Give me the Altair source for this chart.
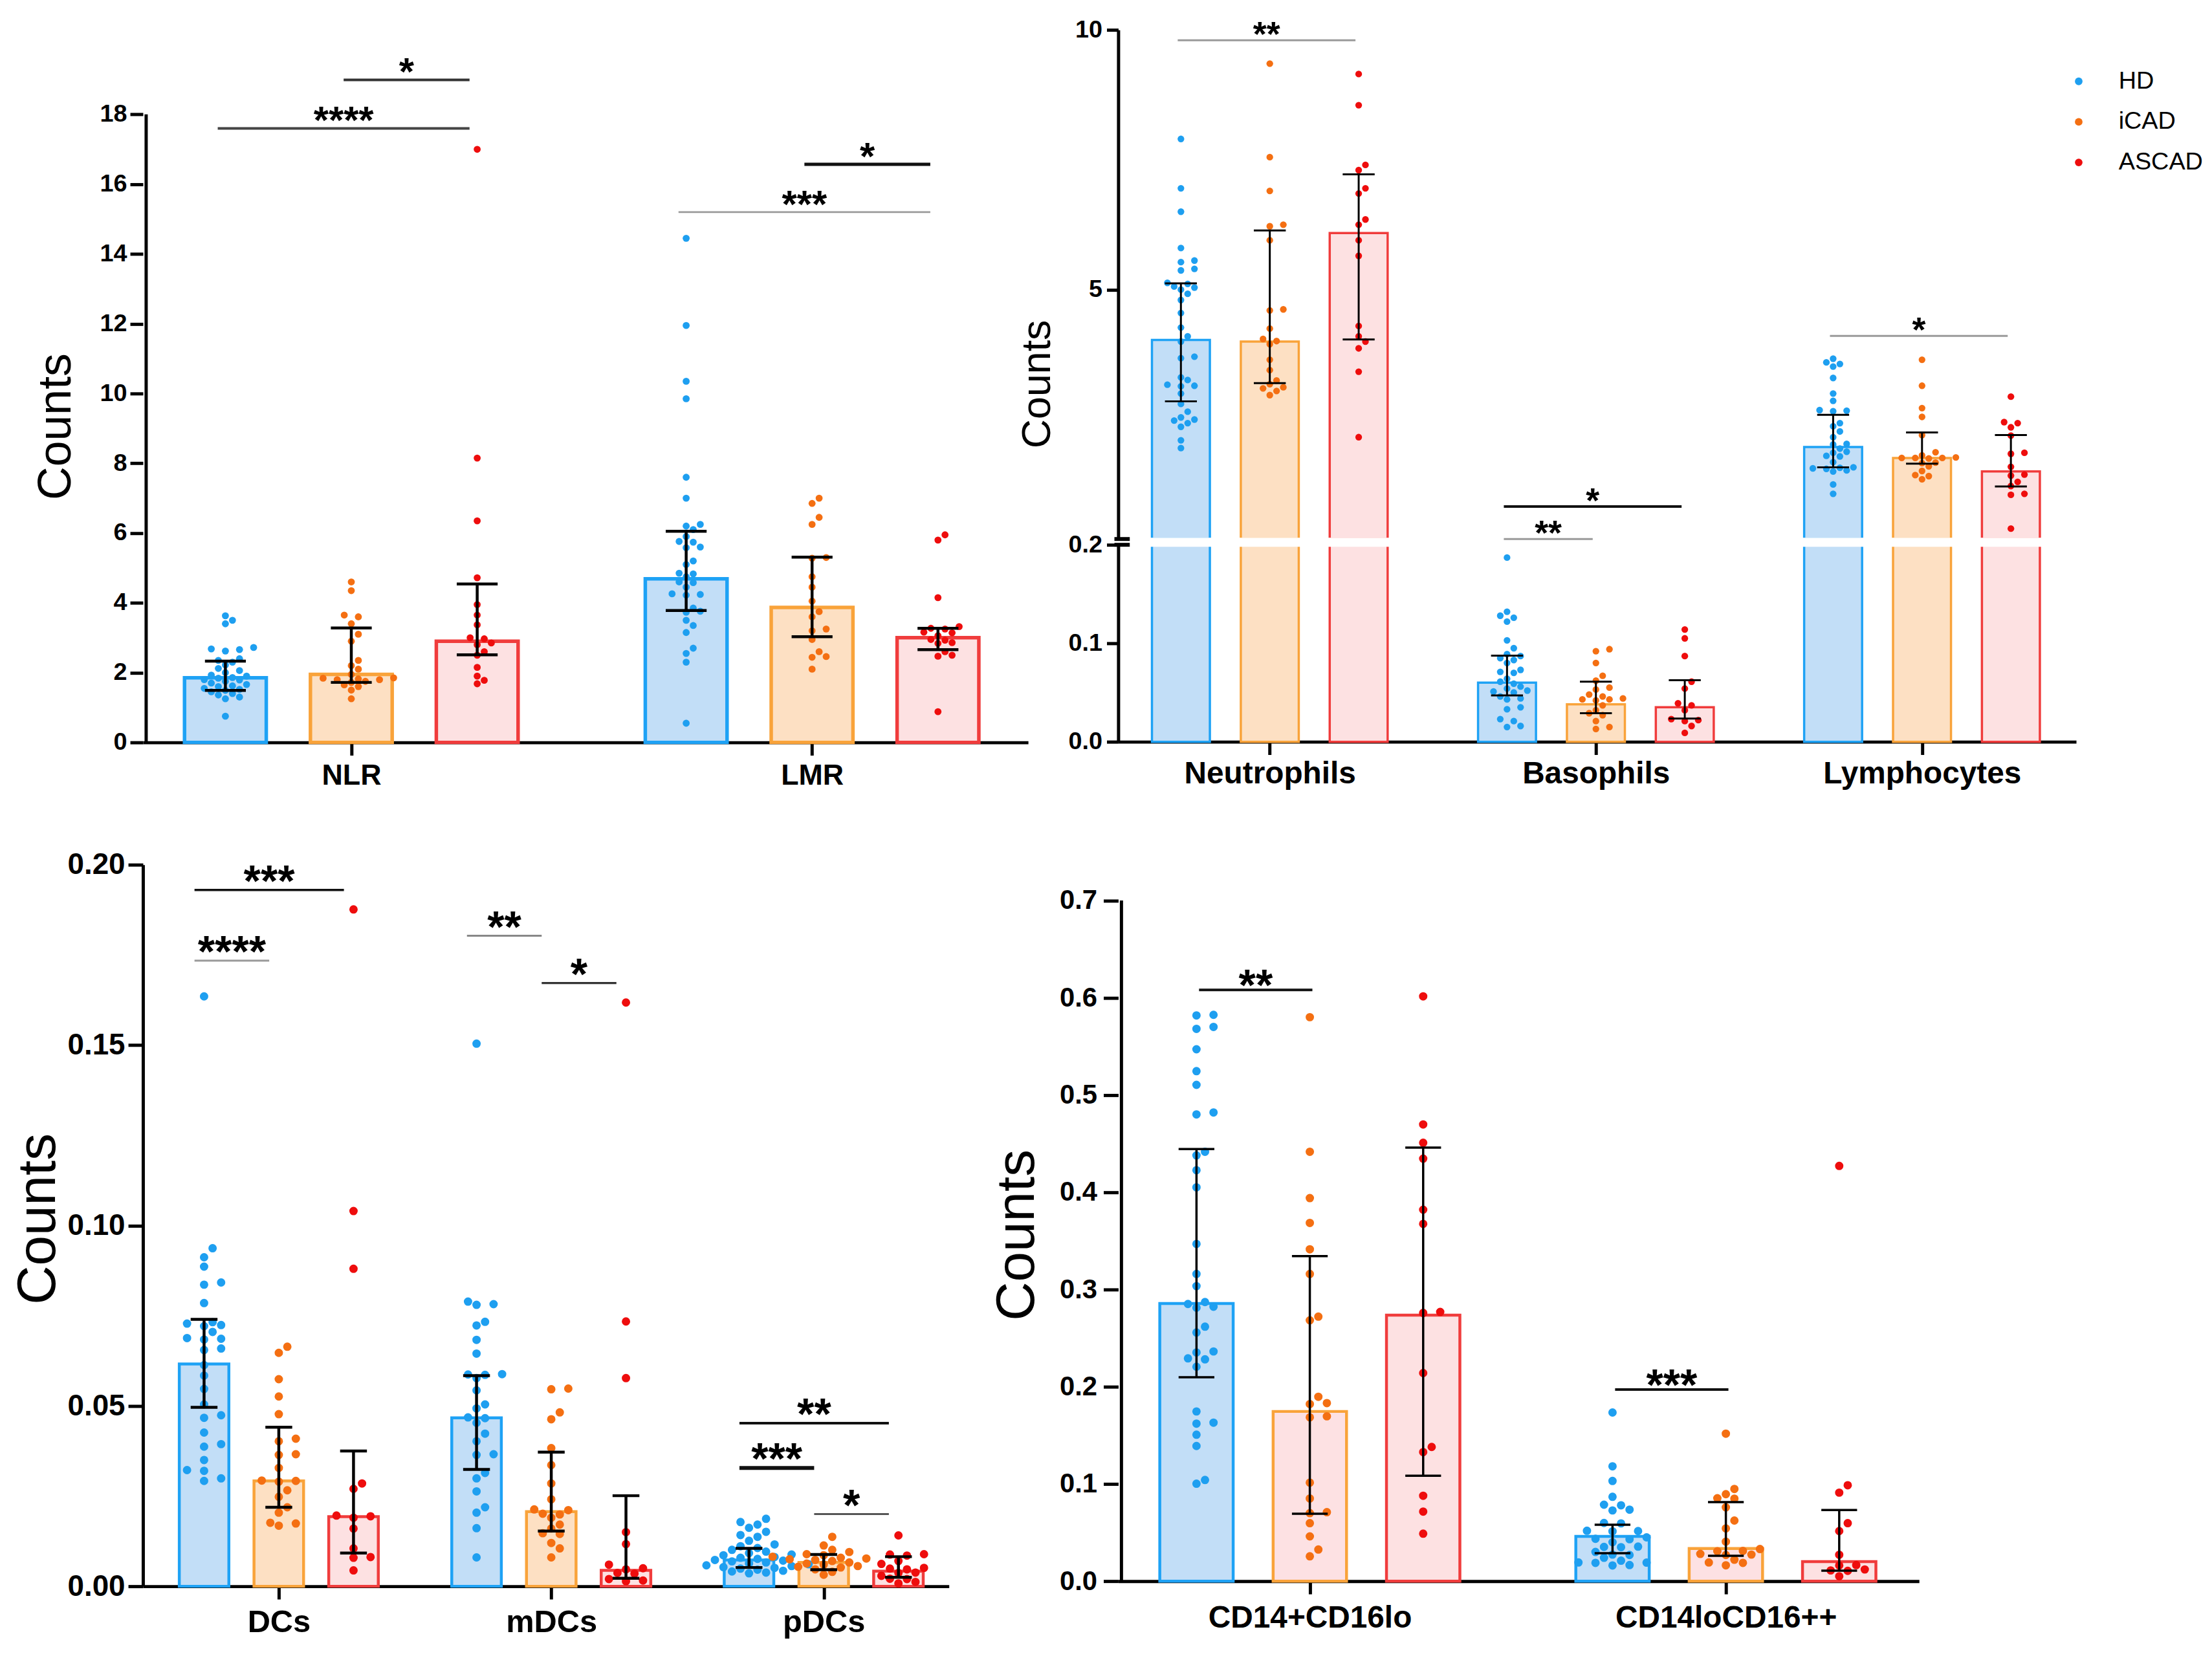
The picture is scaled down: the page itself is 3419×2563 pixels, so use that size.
import json
import altair as alt
import pandas as pd

GROUPS = ["HD", "iCAD", "ASCAD"]

# ---------------- Panel A : NLR / LMR ----------------
A_CATS = ["NLR", "LMR"]
nlr_hd = [3.63, 3.5, 3.4, 2.72, 2.68, 2.62, 2.66, 2.4, 2.35, 2.3, 2.22, 2.12, 2.06, 2.0, 1.93, 1.9, 1.86,
          1.84, 1.8, 1.79, 1.75, 1.7, 1.66, 1.62, 1.6, 1.55, 1.52, 1.49, 1.45, 1.4, 1.36, 1.3, 1.25, 0.75]
nlr_icad = [4.6, 4.35, 3.65, 3.6, 3.4, 3.1, 2.9, 2.35, 2.2, 2.1, 1.95, 1.85, 1.84, 1.82, 1.8, 1.8, 1.75,
            1.72, 1.65, 1.6, 1.5, 1.25]
nlr_ascad = [17.0, 8.15, 6.35, 4.72, 3.95, 3.65, 3.37, 3.0, 2.97, 2.85, 2.8, 2.6, 2.5, 2.15, 1.9, 1.78, 1.68]
lmr_hd = [14.45, 11.95, 10.35, 9.85, 7.6, 7.0, 6.25, 6.2, 6.1, 5.9, 5.76, 5.74, 5.6, 5.58, 5.2, 5.1, 4.85,
          4.83, 4.75, 4.6, 4.58, 4.45, 4.26, 4.24, 4.22, 3.85, 3.76, 3.73, 3.5, 3.35, 3.15, 2.7, 2.55, 2.3, 0.55]
lmr_icad = [7.0, 6.85, 6.45, 6.25, 5.3, 5.28, 4.75, 4.45, 4.05, 3.75, 3.6, 3.25, 3.2, 2.95, 2.6, 2.46, 2.44, 2.1]
lmr_ascad = [5.95, 5.8, 4.15, 3.32, 3.27, 3.25, 3.16, 3.14, 3.06, 2.95, 2.93, 2.86, 2.84, 2.6, 2.5, 2.47, 0.88]
A_BAR = {"NLR": [1.85, 1.95, 2.9], "LMR": [4.69, 3.87, 3.0]}
A_LO = {"NLR": [1.49, 1.72, 2.51], "LMR": [3.78, 3.03, 2.66]}
A_HI = {"NLR": [2.33, 3.28, 4.54], "LMR": [6.05, 5.31, 3.27]}
A_SIG = [("NLR", "iCAD", "ASCAD", 18.99, "*"), ("NLR", "HD", "ASCAD", 17.6, "****"),
         ("LMR", "iCAD", "ASCAD", 16.57, "*"), ("LMR", "HD", "ASCAD", 15.2, "***")]

# ---------------- Panel B : Neutrophils / Basophils / Lymphocytes ----------------
B_CATS = ["Neutrophils", "Basophils", "Lymphocytes"]
neu_hd = [7.9, 6.95, 6.5, 5.8, 5.56, 5.53, 5.4, 5.37, 5.13, 5.11, 5.06, 5.04, 5.0, 4.92, 4.8, 4.55, 4.27, 4.1,
          4.0, 3.71, 3.68, 3.31, 3.26, 3.17, 3.15, 3.14, 3.0, 2.8, 2.65, 2.54, 2.5, 2.48, 2.43, 2.36, 2.1, 1.95]
neu_icad = [9.35, 7.55, 6.9, 6.25, 6.22, 5.95, 4.62, 4.6, 4.25, 4.05, 4.01, 3.95, 3.65, 3.45, 3.25, 3.18,
            3.12, 3.1, 3.05, 2.97]
neu_ascad = [9.15, 8.55, 7.4, 7.3, 6.95, 6.85, 6.35, 6.25, 5.95, 5.65, 4.3, 4.1, 4.0, 3.87, 3.42, 2.16]
bas_hd = [0.187, 0.132, 0.128, 0.126, 0.122, 0.103, 0.095, 0.089, 0.087, 0.085, 0.083, 0.080, 0.073, 0.071,
          0.070, 0.064, 0.061, 0.059, 0.056, 0.054, 0.052, 0.051, 0.050, 0.046, 0.044, 0.043, 0.035, 0.033,
          0.023, 0.021, 0.016, 0.015]
bas_icad = [0.094, 0.092, 0.080, 0.067, 0.062, 0.055, 0.053, 0.048, 0.046, 0.044, 0.043, 0.042, 0.043, 0.037,
            0.032, 0.029, 0.027, 0.021, 0.015, 0.013]
bas_ascad = [0.114, 0.105, 0.087, 0.061, 0.054, 0.039, 0.037, 0.032, 0.023, 0.022, 0.021, 0.016, 0.009]
lym_hd = [3.67, 3.6, 3.57, 3.52, 3.3, 3.0, 2.86, 2.68, 2.67, 2.66, 2.43, 2.37, 2.27, 2.16, 2.03, 2.02, 1.94,
          1.88, 1.86, 1.8, 1.79, 1.68, 1.58, 1.57, 1.56, 1.55, 1.52, 1.5, 1.25, 1.07]
lym_icad = [3.65, 3.15, 2.72, 2.55, 2.2, 1.87, 1.81, 1.77, 1.76, 1.76, 1.75, 1.76, 1.67, 1.66, 1.6, 1.51,
            1.43, 1.41, 1.35]
lym_ascad = [2.94, 2.45, 2.43, 2.35, 2.19, 1.86, 1.84, 1.59, 1.44, 1.42, 1.3, 1.22, 1.07, 1.05, 0.40]
B_BAR = {"Neutrophils": [4.03, 4.0, 6.09], "Basophils": [0.060, 0.038, 0.035], "Lymphocytes": [1.97, 1.76, 1.5]}
B_LO = {"Neutrophils": [2.85, 3.2, 4.04], "Basophils": [0.047, 0.029, 0.0235], "Lymphocytes": [1.58, 1.65, 1.21]}
B_HI = {"Neutrophils": [5.12, 6.14, 7.22], "Basophils": [0.0875, 0.061, 0.0625], "Lymphocytes": [2.59, 2.25, 2.2]}
B_SIG = [("Neutrophils", "HD", "ASCAD", 9.8, "**"), ("Basophils", "HD", "ASCAD", 0.2388, "*"),
         ("Basophils", "HD", "iCAD", 0.2059, "**"), ("Lymphocytes", "HD", "ASCAD", 4.11, "*")]
B_LOWER = ["Basophils"]

# ---------------- Panel C : DCs / mDCs / pDCs ----------------
C_CATS = ["DCs", "mDCs", "pDCs"]
dc_hd = [0.1635, 0.0937, 0.0912, 0.0886, 0.0842, 0.0836, 0.0785, 0.0732, 0.0728, 0.0724, 0.0721, 0.0705,
         0.0688, 0.0686, 0.0684, 0.0659, 0.0655, 0.0613, 0.0584, 0.0547, 0.0504, 0.0474, 0.0467, 0.0426,
         0.0394, 0.0387, 0.035, 0.0322, 0.032, 0.0299, 0.0292]
dc_icad = [0.0664, 0.0647, 0.0574, 0.0526, 0.0477, 0.0409, 0.0402, 0.0366, 0.0364, 0.0328, 0.0293, 0.0292,
           0.029, 0.0266, 0.0248, 0.0219, 0.0204, 0.0176, 0.0174, 0.0168]
dc_ascad = [0.1876, 0.104, 0.088, 0.0285, 0.027, 0.0196, 0.0194, 0.019, 0.016, 0.0105, 0.0081, 0.0079, 0.0044]
mdc_hd = [0.1504, 0.0789, 0.0782, 0.0780, 0.0733, 0.0723, 0.0683, 0.0645, 0.0588, 0.0587, 0.0586, 0.0577,
          0.0543, 0.0504, 0.0493, 0.0468, 0.0466, 0.0453, 0.0423, 0.0402, 0.0366, 0.0364, 0.0314, 0.0299,
          0.0263, 0.0219, 0.0204, 0.0161, 0.008]
mdc_icad = [0.0548, 0.0546, 0.0482, 0.0463, 0.0383, 0.0336, 0.0285, 0.0241, 0.0213, 0.0211, 0.0201, 0.0199,
            0.019, 0.0171, 0.016, 0.0147, 0.0145, 0.012, 0.0105, 0.008]
mdc_ascad = [0.1618, 0.0734, 0.0577, 0.015, 0.0117, 0.006, 0.005, 0.0047, 0.0037, 0.0035, 0.002, 0.0016, 0.0014]
pdc_hd = [0.0187, 0.0178, 0.0171, 0.0162, 0.0151, 0.0142, 0.0137, 0.0126, 0.0116, 0.0111, 0.0106, 0.0101,
          0.0096, 0.0092, 0.0088, 0.0086, 0.0081, 0.0079, 0.0076, 0.0073, 0.0071, 0.0069, 0.0066, 0.0063,
          0.0061, 0.0058, 0.0056, 0.0053, 0.0051, 0.0049, 0.0046, 0.0043, 0.0041, 0.0038, 0.0036]
pdc_icad = [0.0137, 0.0113, 0.0101, 0.0095, 0.0089, 0.0086, 0.0082, 0.0079, 0.0077, 0.0075, 0.0073, 0.007,
            0.0066, 0.0063, 0.006, 0.0056, 0.0054, 0.0052, 0.0047, 0.004, 0.0032]
pdc_ascad = [0.0141, 0.0089, 0.0088, 0.0085, 0.007, 0.0062, 0.0051, 0.0049, 0.0047, 0.0038, 0.0037, 0.0029,
             0.0021, 0.002, 0.0012, 0.0008]
C_BAR = {"DCs": [0.0616, 0.0292, 0.0193], "mDCs": [0.0467, 0.0207, 0.0044], "pDCs": [0.0073, 0.0066, 0.0042]}
C_LO = {"DCs": [0.0496, 0.0219, 0.0092], "mDCs": [0.0324, 0.0153, 0.0022], "pDCs": [0.0052, 0.0046, 0.0025]}
C_HI = {"DCs": [0.074, 0.0441, 0.0375], "mDCs": [0.0584, 0.0372, 0.0251], "pDCs": [0.0105, 0.0088, 0.0082]}
C_SIG = [("DCs", "HD", "ASCAD", 0.193, "***"), ("DCs", "HD", "iCAD", 0.1734, "****"),
         ("mDCs", "HD", "iCAD", 0.1803, "**"), ("mDCs", "iCAD", "ASCAD", 0.1672, "*"),
         ("pDCs", "HD", "ASCAD", 0.0452, "**"), ("pDCs", "HD", "iCAD", 0.0328, "***"),
         ("pDCs", "iCAD", "ASCAD", 0.0200, "*")]

# ---------------- Panel D : monocyte subsets ----------------
D_CATS = ["CD14+CD16lo", "CD14loCD16++"]
mo1_hd = [0.5824, 0.5818, 0.570, 0.568, 0.547, 0.5245, 0.5104, 0.482, 0.480, 0.4416, 0.4378, 0.4226, 0.405,
          0.3468, 0.3159, 0.3034, 0.287, 0.285, 0.2822, 0.2812, 0.2617, 0.2557, 0.2362, 0.2352, 0.2291,
          0.2281, 0.2205, 0.1745, 0.163, 0.162, 0.1506, 0.139, 0.104, 0.1002]
mo1_icad = [0.58, 0.4416, 0.3939, 0.3684, 0.3413, 0.3159, 0.272, 0.2682, 0.1896, 0.1831, 0.1821, 0.1695,
            0.1685, 0.1013, 0.085, 0.0709, 0.0699, 0.0596, 0.046, 0.0325, 0.0255]
mo1_ascad = [0.6014, 0.4697, 0.4508, 0.4345, 0.382, 0.3674, 0.2768, 0.2758, 0.214, 0.138, 0.1327, 0.0878,
             0.0715, 0.0488]
mo2_hd = [0.1734, 0.1181, 0.103, 0.0867, 0.0786, 0.078, 0.0735, 0.0727, 0.0598, 0.0594, 0.0518, 0.0515,
          0.0512, 0.045, 0.0435, 0.0431, 0.040, 0.0355, 0.0352, 0.0349, 0.030, 0.0273, 0.0269, 0.024, 0.021,
          0.0192, 0.019, 0.0188, 0.0165, 0.0161]
mo2_icad = [0.1517, 0.0948, 0.0894, 0.0852, 0.0848, 0.0759, 0.0623, 0.0542, 0.0406, 0.033, 0.0311, 0.0307,
            0.028, 0.0273, 0.0269, 0.022, 0.0192, 0.0188, 0.0163]
mo2_ascad = [0.427, 0.0986, 0.091, 0.0596, 0.0515, 0.0271, 0.0165, 0.0161, 0.012, 0.011, 0.0106, 0.005]
D_BAR = {"CD14+CD16lo": [0.2855, 0.1745, 0.2736], "CD14loCD16++": [0.046, 0.0336, 0.020]}
D_LO = {"CD14+CD16lo": [0.2097, 0.0693, 0.1084], "CD14loCD16++": [0.0287, 0.026, 0.0108]}
D_HI = {"CD14+CD16lo": [0.4443, 0.3343, 0.4459], "CD14loCD16++": [0.058, 0.0813, 0.0731]}
D_SIG = [("CD14+CD16lo", "HD", "iCAD", 0.608, "**"), ("CD14loCD16++", "HD", "iCAD", 0.197, "***")]

A_PTS = {"NLR": [nlr_hd, nlr_icad, nlr_ascad], "LMR": [lmr_hd, lmr_icad, lmr_ascad]}
B_PTS = {"Neutrophils": [neu_hd, neu_icad, neu_ascad], "Basophils": [bas_hd, bas_icad, bas_ascad],
         "Lymphocytes": [lym_hd, lym_icad, lym_ascad]}
C_PTS = {"DCs": [dc_hd, dc_icad, dc_ascad], "mDCs": [mdc_hd, mdc_icad, mdc_ascad],
         "pDCs": [pdc_hd, pdc_icad, pdc_ascad]}
D_PTS = {"CD14+CD16lo": [mo1_hd, mo1_icad, mo1_ascad], "CD14loCD16++": [mo2_hd, mo2_icad, mo2_ascad]}

# ---------------- styles ----------------
FONT = "Liberation Sans"
PT_COLORS = ["#1e9ff0", "#f46f12", "#ee0d0d"]
BAR_FILL = ["#c2def7", "#fde0c3", "#fde1e2"]
BAR_FILL_D = ["#c2def7", "#fde1e3", "#fde1e2"]
BAR_STROKE = ["#1ea2f5", "#f9a33a", "#f03c3c"]
A_SIG_STYLE = [("#333333", 4), ("#444444", 4), ("#111111", 5), ("#9a9a9a", 3)]
B_SIG_STYLE = [("#9a9a9a", 3), ("#111111", 4), ("#9a9a9a", 3), ("#9a9a9a", 3)]
C_SIG_STYLE = [("#111111", 3.5), ("#9a9a9a", 3), ("#888888", 3), ("#333333", 3.5),
               ("#111111", 4), ("#111111", 6), ("#555555", 3)]
D_SIG_STYLE = [("#111111", 4), ("#111111", 4)]

LEG = alt.Legend(title=None, orient="none", legendX=2988, legendY=61, labelFont=FONT, labelFontSize=38,
                 labelColor="black", symbolType="circle", symbolSize=140, rowPadding=25, labelOffset=43,
                 padding=0, symbolStrokeWidth=0)
COLOR = alt.Color("group:N", scale=alt.Scale(domain=GROUPS, range=PT_COLORS), legend=LEG)

CFG_A = dict(width=1375, height=1107, catpx=721.0, gfrac=197 / 721, xdom=[(222 - 543) / 721, (1597 - 543) / 721],
             ydom=[0, 20.424], yvals=list(range(0, 19, 2)), yfmt="d", axis_top=18, ypx=54.2, diam=12, size=118,
             barw=127, barsw=5.5, errw=4.5, cap=32, ylab=38, ytick=20, ypad=5, tfs=72, tx=-135, ty=616,
             cfs=45, cpad=9, afs=60, ady=8, ashift=-12, fills=BAR_FILL)
CFG_B = dict(width=1488, height=1106, catpx=510.0, gfrac=139 / 510, xdom=[(1737 - 1969) / 510, (3225 - 1969) / 510],
             diam=11.5, size=108, barw=90, barsw=3.5, errw=3, cap=25, ylab=38, ytick=18, ypad=7, tfs=63, tx=-125,
             ty=550, cfs=48, cpad=6, afs=54, ady=9, ashift=-5, fills=BAR_FILL)
CFG_C = dict(width=1252, height=1121, catpx=426.65, gfrac=117 / 426.65,
             xdom=[(222 - 429.7) / 426.65, (1474 - 429.7) / 426.65], ydom=[0, 0.2],
             yvals=[0, 0.05, 0.1, 0.15, 0.2], yfmt=".2f", axis_top=None, ypx=5605.0, diam=14.5, size=170,
             barw=77, barsw=4.5, errw=4.5, cap=21, ylab=46, ytick=23, ypad=5, tfs=84, tx=-162, ty=550,
             cfs=49, cpad=12, afs=68, ady=9, ashift=-15, fills=BAR_FILL)
CFG_D = dict(width=1244, height=1113, catpx=651.5, gfrac=177.5 / 651.5,
             xdom=[(1737 - 2032) / 651.5, (2981 - 2032) / 651.5], ydom=[0, 0.7368],
             yvals=[0, 0.1, 0.2, 0.3, 0.4, 0.5, 0.6, 0.7], yfmt=".1f", axis_top=0.7, ypx=1510.6, diam=14.5,
             size=170, barw=114, barsw=4.5, errw=3.5, cap=28, ylab=42, ytick=23, ypad=10, tfs=84, tx=-157,
             ty=575, cfs=48, cpad=14, afs=68, ady=16, ashift=4, fills=BAR_FILL_D)


def swarm(vals, ypx, diam):
    """Deterministic beeswarm horizontal offsets (pixels)."""
    step = diam * 0.92
    placed = []
    res = [0.0] * len(vals)
    for i in sorted(range(len(vals)), key=lambda k: vals[k]):
        y = vals[i] * ypx
        c = 0.0
        for m in range(0, 60):
            c = 0.0 if m == 0 else ((m + 1) // 2) * step * (1 if m % 2 else -1)
            if all((c - xo) ** 2 + (y - yo) ** 2 >= (diam * 0.97) ** 2 for yo, xo in placed):
                break
        placed.append((y, c))
        res[i] = c
    return res


def panel_data(cats, pts, bars, lo, hi, cfg, ypx_by_cat=None):
    prow, brow, crow = [], [], []
    cap = cfg["cap"] / cfg["catpx"]
    for ci, cat in enumerate(cats):
        for gi, g in enumerate(GROUPS):
            pos = ci + (gi - 1) * cfg["gfrac"]
            vals = pts[cat][gi]
            ypx = ypx_by_cat[cat] if ypx_by_cat else cfg["ypx"]
            offs = swarm(vals, ypx, cfg["diam"])
            for v, o in zip(vals, offs):
                prow.append(dict(cat=cat, group=g, value=v, px=pos + o / cfg["catpx"]))
            brow.append(dict(cat=cat, group=g, pos=pos, value=bars[cat][gi], lo=lo[cat][gi], hi=hi[cat][gi],
                             fill=cfg["fills"][gi], stroke=BAR_STROKE[gi]))
            for yv in (lo[cat][gi], hi[cat][gi]):
                crow.append(dict(cat=cat, group=g, c1=pos - cap, c2=pos + cap, yv=yv))
    return pd.DataFrame(prow), pd.DataFrame(brow), pd.DataFrame(crow)


def sig_data(cats, sig, style, cfg):
    rows = []
    sh = cfg["ashift"] / cfg["catpx"]
    for (cat, g1, g2, y, lab), (col, w) in zip(sig, style):
        ci = cats.index(cat)
        p1 = ci + (GROUPS.index(g1) - 1) * cfg["gfrac"] + sh
        p2 = ci + (GROUPS.index(g2) - 1) * cfg["gfrac"] + sh
        rows.append(dict(cat=cat, x1=p1, x2=p2, xm=(p1 + p2) / 2, y=y, label=lab, col=col, w=w))
    return pd.DataFrame(rows)


def x_axis(cats, cfg):
    return alt.Axis(values=list(range(len(cats))), labelExpr=json.dumps(cats) + "[datum.value]", title=None,
                    grid=False, domainWidth=5, domainColor="black", tickWidth=5, tickSize=20, tickColor="black",
                    labelFont=FONT, labelFontWeight="bold", labelFontSize=cfg["cfs"], labelColor="black",
                    labelPadding=cfg["cpad"], labelFlush=False, labelOverlap=False, labelLimit=2000)


def y_axis(cfg, values, fmt, domain=True, with_title=True):
    kw = dict(values=values, format=fmt, orient="left", labelFont=FONT, labelFontWeight="bold",
              labelFontSize=cfg["ylab"], labelColor="black", labelPadding=cfg["ypad"], labelFlush=False,
              labelOverlap=False, tickSize=cfg["ytick"], tickWidth=5, tickColor="black", domain=domain,
              domainWidth=5, domainColor="black", grid=False, labelLimit=1000)
    if with_title:
        kw.update(title="Counts", titleFont=FONT, titleFontSize=cfg["tfs"], titleFontWeight="normal",
                  titleColor="black", titleX=cfg["tx"], titleY=cfg["ty"], titleAngle=270, titleAlign="center",
                  titleBaseline="middle", titleLimit=2000)
    else:
        kw.update(title=None)
    return alt.Axis(**kw)


def marks_common(P, B, C, S, X, Y, cfg):
    out = []
    if len(P):
        out.append(alt.Chart(P).mark_circle(size=cfg["size"], opacity=1).encode(
            x=X("px"), y=Y("value"), color=COLOR))
    if len(B):
        out.append(alt.Chart(B).mark_rule(color="black", strokeWidth=cfg["errw"]).encode(
            x=X("pos"), y=Y("lo"), y2=alt.Y2("hi:Q")))
    if len(C):
        out.append(alt.Chart(C).mark_rule(color="black", strokeWidth=cfg["errw"]).encode(
            x=X("c1"), x2=alt.X2("c2:Q"), y=Y("yv")))
    if len(S):
        out.append(alt.Chart(S).mark_rule().encode(
            x=X("x1"), x2=alt.X2("x2:Q"), y=Y("y"),
            stroke=alt.Stroke("col:N", scale=None), strokeWidth=alt.StrokeWidth("w:Q", scale=None)))
        out.append(alt.Chart(S).mark_text(font=FONT, fontSize=cfg["afs"], fontWeight="bold", color="black",
                                          baseline="alphabetic", align="center", dy=cfg["ady"]).encode(
            x=X("xm"), y=Y("y"), text=alt.Text("label:N")))
    return out


def simple_panel(cats, pts, bars, lo, hi, sig, style, cfg):
    P, B, C = panel_data(cats, pts, bars, lo, hi, cfg)
    S = sig_data(cats, sig, style, cfg)
    xs = alt.Scale(domain=cfg["xdom"], nice=False, zero=False)
    ys = alt.Scale(domain=cfg["ydom"], nice=False, zero=False)
    xax = x_axis(cats, cfg)
    yax = y_axis(cfg, cfg["yvals"], cfg["yfmt"], domain=cfg["axis_top"] is None)

    def X(f):
        return alt.X(f, type="quantitative", scale=xs, axis=xax)

    def Y(f):
        return alt.Y(f, type="quantitative", scale=ys, axis=yax)

    layers = [alt.Chart(B).mark_bar(width=cfg["barw"], strokeWidth=cfg["barsw"]).encode(
        x=X("pos"), y=Y("value"), y2=alt.datum(0),
        fill=alt.Fill("fill:N", scale=None), stroke=alt.Stroke("stroke:N", scale=None))]
    layers += marks_common(P, B, C, S, X, Y, cfg)
    if cfg["axis_top"] is not None:
        ax = pd.DataFrame({"x": [cfg["xdom"][0]], "y0": [0.0], "y1": [cfg["axis_top"]]})
        layers.append(alt.Chart(ax).mark_rule(color="black", strokeWidth=5).encode(
            x=X("x"), y=Y("y0"), y2=alt.Y2("y1:Q")))
    return alt.layer(*layers).properties(width=cfg["width"], height=cfg["height"])


def broken_panel(cfg):
    up_px = 791 / 9.8
    lo_px = (1106 - 800) / 0.2
    ypx_by_cat = {c: (lo_px if c in B_LOWER else up_px) for c in B_CATS}
    P, B, C = panel_data(B_CATS, B_PTS, B_BAR, B_LO, B_HI, cfg, ypx_by_cat)
    S = sig_data(B_CATS, B_SIG, B_SIG_STYLE, cfg)
    low = lambda df: df[df["cat"].isin(B_LOWER)]
    upp = lambda df: df[~df["cat"].isin(B_LOWER)]
    xs = alt.Scale(domain=cfg["xdom"], nice=False, zero=False)
    xax = x_axis(B_CATS, cfg)
    ysu = alt.Scale(domain=[0.2, 10], range=[791, 0], nice=False, zero=False)
    ysl = alt.Scale(domain=[0, 0.2], range=[1106, 800], nice=False, zero=False)
    yaxu = y_axis(cfg, [5, 10], "d", domain=True, with_title=True)
    yaxl = y_axis(cfg, [0, 0.1, 0.2], ".1f", domain=True, with_title=False)

    def X(f):
        return alt.X(f, type="quantitative", scale=xs, axis=xax)

    def YU(f):
        return alt.Y(f, type="quantitative", scale=ysu, axis=yaxu)

    def YL(f):
        return alt.Y(f, type="quantitative", scale=ysl, axis=yaxl)

    x0, x1 = cfg["xdom"]
    brk = pd.DataFrame({"b1": [x0 - 11 / cfg["catpx"]], "b2": [x0 + 13 / cfg["catpx"]], "y": [0.2]})
    band = pd.DataFrame({"b1": [x0 + 16 / cfg["catpx"]], "b2": [x1], "y1": [0.2 + 11 / lo_px],
                         "y2": [0.2 - 3 / lo_px]})

    Bu = upp(B)
    upper = [alt.Chart(Bu).mark_bar(width=cfg["barw"], strokeWidth=cfg["barsw"]).encode(
        x=X("pos"), y=YU("value"), y2=alt.datum(0.2),
        fill=alt.Fill("fill:N", scale=None), stroke=alt.Stroke("stroke:N", scale=None))]
    upper += marks_common(upp(P), Bu, upp(C), upp(S), X, YU, cfg)
    upper.append(alt.Chart(brk).mark_rule(color="black", strokeWidth=6).encode(
        x=X("b1"), x2=alt.X2("b2:Q"), y=YU("y")))

    lower = [alt.Chart(B).transform_calculate(lowtop="min(datum.value, 0.2)").mark_bar(
        width=cfg["barw"], strokeWidth=cfg["barsw"]).encode(
        x=X("pos"), y=YL("lowtop"), y2=alt.datum(0),
        fill=alt.Fill("fill:N", scale=None), stroke=alt.Stroke("stroke:N", scale=None)),
        alt.Chart(band).mark_rect(color="white").encode(x=X("b1"), x2=alt.X2("b2:Q"), y=YL("y1"),
                                                         y2=alt.Y2("y2:Q"))]
    lower += marks_common(low(P), low(B), low(C), low(S), X, YL, cfg)
    lower.append(alt.Chart(brk).mark_rule(color="black", strokeWidth=6).encode(
        x=X("b1"), x2=alt.X2("b2:Q"), y=YL("y")))

    return alt.layer(alt.layer(*upper), alt.layer(*lower)).resolve_scale(y="independent").properties(
        width=cfg["width"], height=cfg["height"])


pA = simple_panel(A_CATS, A_PTS, A_BAR, A_LO, A_HI, A_SIG, A_SIG_STYLE, CFG_A)
pB = broken_panel(CFG_B)
pC = simple_panel(C_CATS, C_PTS, C_BAR, C_LO, C_HI, C_SIG, C_SIG_STYLE, CFG_C)
pD = simple_panel(D_CATS, D_PTS, D_BAR, D_LO, D_HI, D_SIG, D_SIG_STYLE, CFG_D)

chart = alt.concat(pA, pB, pC, pD, columns=2, spacing={"row": 190, "column": 140}, bounds="flush",
                   align="each").properties(
    padding={"left": 10, "top": 13, "right": 6, "bottom": 2}, background="white"
).configure(font=FONT).configure_view(stroke=None, strokeWidth=0)

chart.save("out.html", embed_options={"renderer": "svg", "actions": False})
